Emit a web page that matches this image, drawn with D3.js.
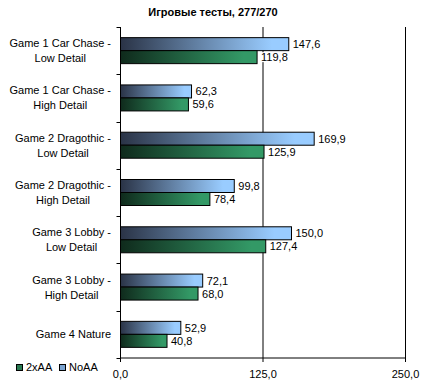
<!DOCTYPE html>
<html><head><meta charset="utf-8">
<script src="https://cdn.jsdelivr.net/npm/d3@7"></script>
<style>body{margin:0;background:#fff}svg{display:block}text{font-family:"Liberation Sans",Arial,sans-serif}</style>
</head><body>
<script>
const categories = [["Game 1 Car Chase -","Low Detail"],["Game 1 Car Chase -","High Detail"],["Game 2 Dragothic -","Low Detail"],["Game 2 Dragothic -","High Detail"],["Game 3 Lobby -","Low Detail"],["Game 3 Lobby -","High Detail"],["Game 4 Nature"]];
const noAA = [147.6, 62.3, 169.9, 99.8, 150.0, 72.1, 52.9];
const aa2x = [119.8, 59.6, 125.9, 78.4, 127.4, 68.0, 40.8];
const xTicks = [0, 125, 250];
const title = "Игровые тесты, 277/270";

const W = 431, H = 385;
const svg = d3.select("body").append("svg").attr("width", W).attr("height", H);
const defs = svg.append("defs");
function grad(id, c0, c1){
  const g = defs.append("linearGradient").attr("id", id).attr("x1","0").attr("x2","1").attr("y1","0").attr("y2","0");
  g.append("stop").attr("offset","0").attr("stop-color",c0);
  g.append("stop").attr("offset","0.9").attr("stop-color",c1);
}
grad("gBlue", "#2a3346", "#99ccff");
grad("gGreen", "#0f2a1c", "#339966");

const x = d3.scaleLinear().domain([0, 250]).range([120.5, 405.5]);
const y = d3.scaleBand().domain(d3.range(categories.length)).range([27, 358]);
const fmt = v => d3.format(".1f")(v).replace(".", ",");

svg.append("text").attr("x", 213).attr("y", 16).attr("text-anchor","middle")
  .attr("font-size", 11).attr("font-weight","bold").text(title);

// gridlines
svg.selectAll("line.grid").data(xTicks.slice(1)).join("line")
  .attr("x1", d => x(d)).attr("x2", d => x(d)).attr("y1", 27).attr("y2", 358)
  .attr("stroke","#000").attr("stroke-width",1);

const barH = 13;
const g = svg.append("g");
categories.forEach((c, i) => {
  const cy = y(i) + y.bandwidth()/2;
  const bars = [{v: noAA[i], fill: "url(#gBlue)", y0: cy - barH}, {v: aa2x[i], fill: "url(#gGreen)", y0: cy}];
  bars.forEach(b => {
    g.append("rect").attr("x", x(0)).attr("y", b.y0).attr("width", x(b.v) - x(0)).attr("height", barH)
      .attr("fill", b.fill).attr("stroke","#000").attr("stroke-width",1);
  });
});
// value labels with white background
categories.forEach((c, i) => {
  const cy = y(i) + y.bandwidth()/2;
  [[noAA[i], cy - barH/2], [aa2x[i], cy + barH/2]].forEach(([v, yy]) => {
    const t = svg.append("text").attr("x", x(v) + 4).attr("y", yy + 4).attr("font-size", 11).text(fmt(v));
    const bb = t.node().getBBox();
    svg.insert("rect", () => t.node()).attr("x", bb.x - 1).attr("y", bb.y + 1).attr("width", bb.width + 2).attr("height", bb.height - 2).attr("fill","#fff");
  });
});

// left axis
svg.append("line").attr("x1", x(0)).attr("x2", x(0)).attr("y1", 27).attr("y2", 358).attr("stroke","#000");
d3.range(categories.length + 1).forEach(i => {
  const yy = Math.round(27 + i * y.step()) + 0.5;
  svg.append("line").attr("x1", x(0) - 4).attr("x2", x(0)).attr("y1", yy).attr("y2", yy).attr("stroke","#000");
});
// bottom axis
svg.append("line").attr("x1", x(0)).attr("x2", x(250)).attr("y1", 358).attr("y2", 358).attr("stroke","#000");
xTicks.forEach(t => {
  svg.append("line").attr("x1", x(t)).attr("x2", x(t)).attr("y1", 358).attr("y2", 362).attr("stroke","#000");
  svg.append("text").attr("x", x(t)).attr("y", 378).attr("text-anchor","middle").attr("font-size", 11).text(fmt(t));
});

// category labels
categories.forEach((lines, i) => {
  const cy = y(i) + y.bandwidth()/2;
  const t = svg.append("text").attr("font-size", 11).attr("text-anchor","middle");
  const n = lines.length;
  lines.forEach((l, k) => {
    t.append("tspan").attr("y", cy + 4 + (k - (n-1)/2) * 15).text(l);
  });
  let maxW = 0;
  t.selectAll("tspan").each(function(){ maxW = Math.max(maxW, this.getComputedTextLength()); });
  t.selectAll("tspan").attr("x", 111 - maxW/2);
});

// legend
const legend = [{name:"2xAA", solid:"#2a7a52", x:16}, {name:"NoAA", solid:"#7aa3d0", x:59}];
legend.forEach(l => {
  svg.append("rect").attr("x", l.x + 0.5).attr("y", 364.5).attr("width", 6).attr("height", 6).attr("fill", l.solid).attr("stroke","#000");
  svg.append("text").attr("x", l.x + 10).attr("y", 371).attr("font-size", 11).text(l.name);
});
</script>
</body></html>
